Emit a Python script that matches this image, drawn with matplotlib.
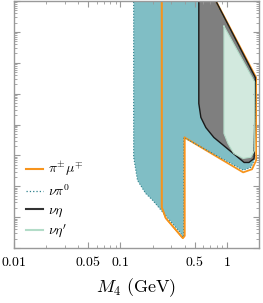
import numpy as np
import matplotlib
matplotlib.use("Agg")
import matplotlib.pyplot as plt
from matplotlib.lines import Line2D
from matplotlib.ticker import LogLocator, NullFormatter, FixedLocator, FixedFormatter

plt.rcParams['mathtext.fontset'] = 'cm'
plt.rcParams['font.family'] = 'serif'
plt.rcParams['font.serif'] = ['DejaVu Serif']

# contorni (M4 in GeV, U^2 in scala log10)
pimu_M = [0.244, 0.244, 0.266, 0.385, 0.400, 0.400, 1.42, 1.72, 1.88, 1.88, 0.662]
pimu_U = [-1.5, -8.68, -9.03, -9.68, -9.61, -6.42, -7.55, -7.45, -7.16, -4.48, -1.5]

pi0_M = [0.133, 0.133, 0.1445, 0.172, 0.200, 0.368, 0.385, 0.393, 0.393, 1.42, 1.68, 1.80, 1.85, 0.662]
pi0_U = [-1.5, -7.06, -7.81, -8.23, -8.45, -9.52, -9.65, -9.61, -6.42, -7.48, -7.39, -7.16, -4.52, -1.5]

eta_M = [0.544, 0.544, 0.569, 0.634, 0.754, 1.45, 1.61, 1.80, 1.85, 0.662]
eta_U = [-1.5, -5.32, -5.77, -6.10, -6.42, -7.23, -7.23, -7.10, -4.48, -1.5]

etap_M = [0.937, 0.937, 1.02, 1.16, 1.42, 1.68, 1.82, 1.82]
etap_U = [-2.81, -6.29, -6.61, -6.94, -7.10, -7.06, -6.84, -4.62]

xticks = [0.01, 0.05, 0.1, 0.5, 1]
xticklabels = ['$0.01$', '$0.05$', '$0.1$', '$0.5$', '$1$']

c_or = '#f7941d'
c_teal = '#80bec5'
c_teal_line = '#2a7f8a'
c_grey = '#7f7f7f'
c_green = '#d2e9de'
c_green_line = '#b3dcc8'

fig = plt.figure(figsize=(2.63, 3.03), dpi=100)
ax = fig.add_axes([14/263, 1-248/303, 245/263, 247/303])
ax.set_xscale('log')
ax.set_yscale('log')

def chiudi(M, U):
    return np.append(M, M[0]), 10**np.append(U, U[0])

x, y = chiudi(pimu_M, pimu_U)
ax.plot(x, y, color=c_or, lw=1.3)

x, y = chiudi(pi0_M, pi0_U)
ax.fill(x, y, color=c_teal, lw=0)
ax.plot(x, y, color=c_teal_line, lw=0.8, ls=':')

x, y = chiudi(pimu_M, pimu_U)
ax.plot(x[:6], y[:6], color=c_or, lw=1.1)

x, y = chiudi(eta_M, eta_U)
ax.fill(x, y, color=c_grey, lw=0)
ax.plot(x, y, color='#1a1a1a', lw=1.0)

x, y = chiudi(etap_M, etap_U)
ax.fill(x, y, color=c_green, lw=0)
ax.plot(x, y, color=c_green_line, lw=0.8)

ax.set_xlim(0.01, 2.0)
ax.set_ylim(1e-10, 1e-2)

ax.xaxis.set_major_locator(FixedLocator(xticks))
ax.xaxis.set_major_formatter(FixedFormatter(xticklabels))
ax.xaxis.set_minor_locator(LogLocator(subs=np.arange(2, 10), numticks=20))
ax.xaxis.set_minor_formatter(NullFormatter())
ax.yaxis.set_major_locator(LogLocator(numticks=20))
ax.yaxis.set_minor_locator(LogLocator(subs=np.arange(2, 10), numticks=20))
ax.yaxis.set_major_formatter(NullFormatter())
ax.yaxis.set_minor_formatter(NullFormatter())

ax.tick_params(which='both', direction='in', top=True, right=True, color='#999999')
ax.tick_params(which='major', length=4, width=0.8, labelsize=10, pad=5)
ax.tick_params(which='minor', length=2, width=0.6)
for s in ax.spines.values():
    s.set_color('#999999')
    s.set_linewidth(1.0)

ax.set_xlabel(r'$M_4\ \mathrm{(GeV)}$', fontsize=13, labelpad=5)

handles = [Line2D([], [], color=c_or, lw=1.5),
           Line2D([], [], color=c_teal_line, lw=0.9, ls=':'),
           Line2D([], [], color='#333333', lw=1.5),
           Line2D([], [], color=c_green_line, lw=1.5)]
labels = [r'$\pi^{\pm}\mu^{\mp}$', r'$\nu\pi^{0}$', r'$\nu\eta$', r"$\nu\eta'$"]
ax.legend(handles, labels, loc='lower left', bbox_to_anchor=(0.02, 0.005), frameon=False,
          fontsize=10, handlelength=1.2, handletextpad=0.4, labelspacing=0.28,
          borderaxespad=0.1)

fig.savefig('out.png', dpi=100)
